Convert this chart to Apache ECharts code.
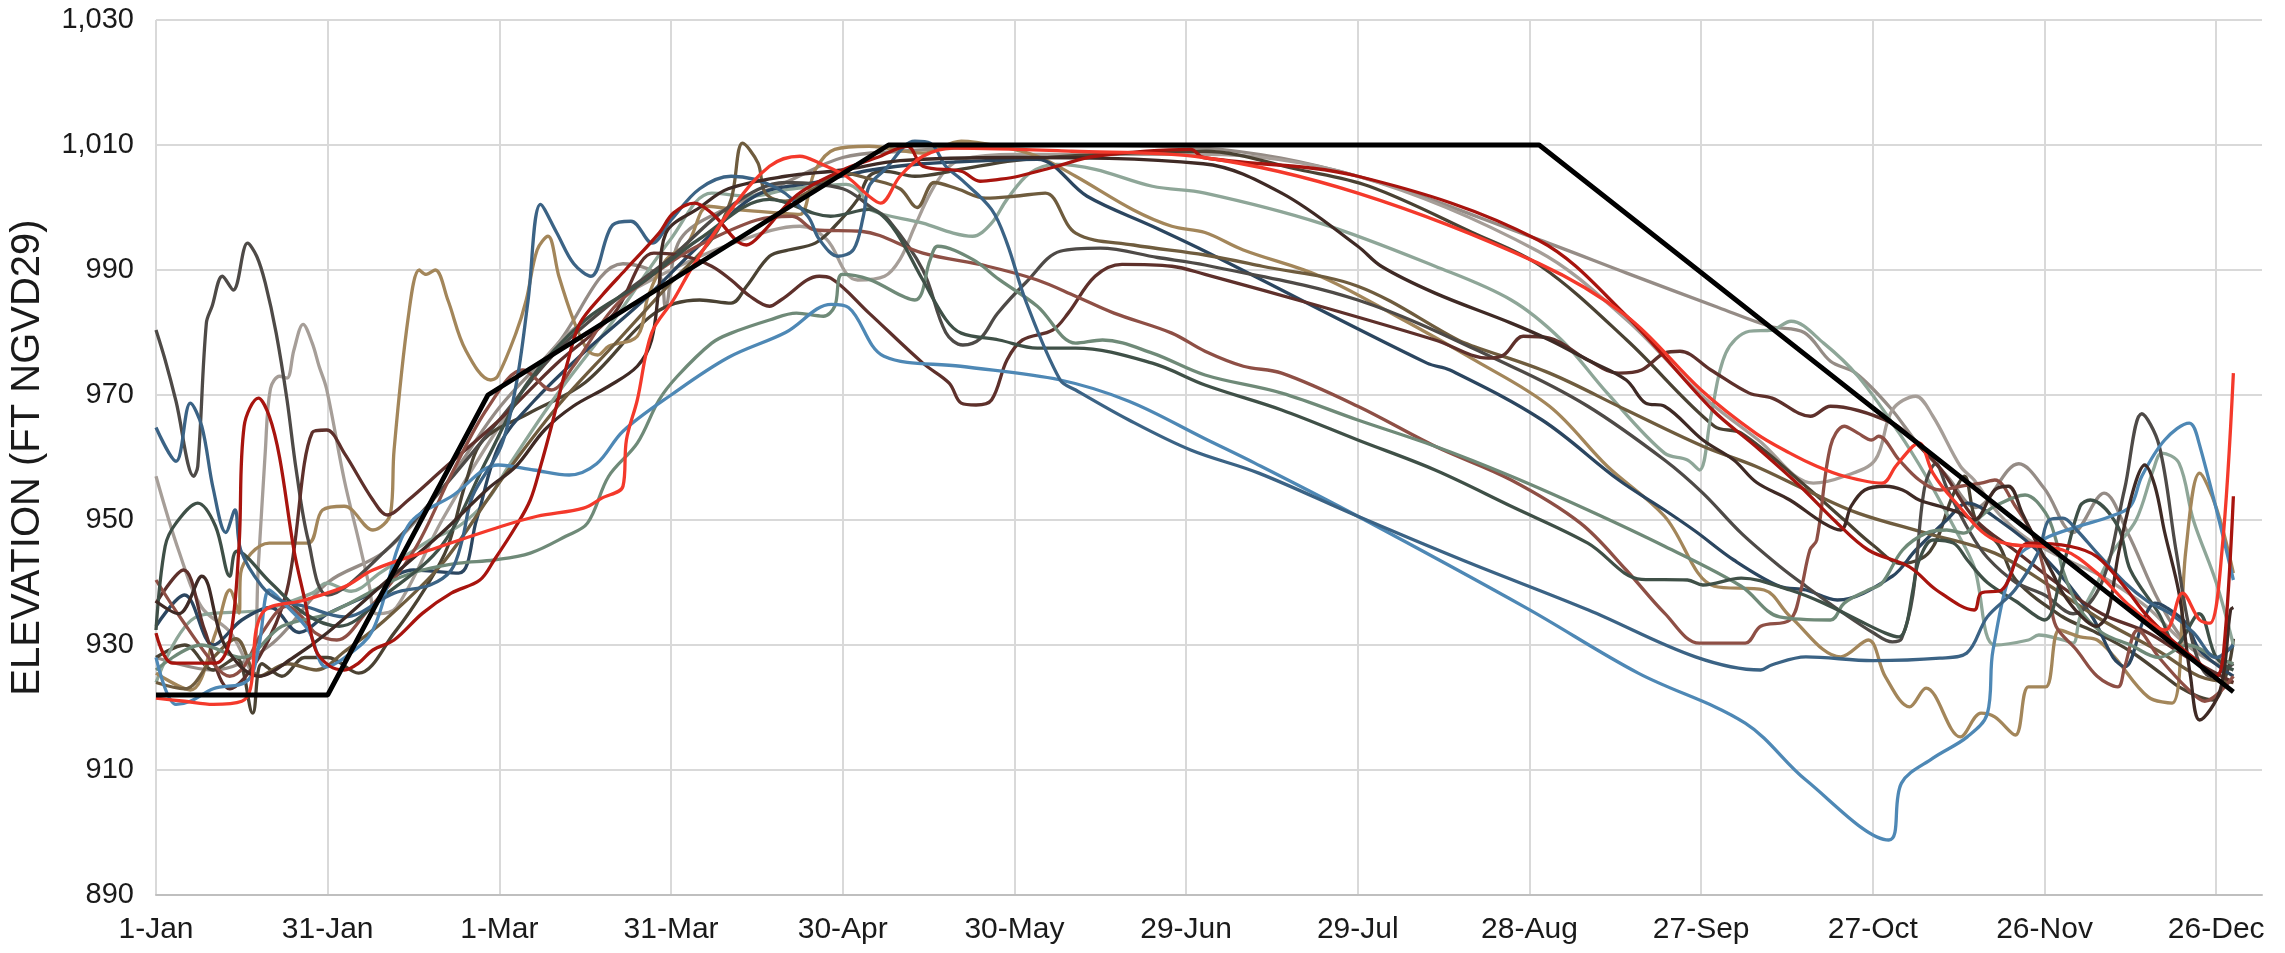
<!DOCTYPE html>
<html>

    <head>
        <meta charset="utf-8" />
        <title>Elevation</title>
        <style>
            html, body { margin: 0; padding: 0; background: #ffffff; }
            #main { width: 2285px; height: 953px; }
        </style>
    </head>

    <body>
        <div id="main"></div>
    </body>
    <script src="https://cdn.jsdelivr.net/npm/echarts@6/dist/echarts.min.js" type="text/javascript" charset="utf-8"></script>
    <script type="text/javascript">
        // x = day of year (0 = 1-Jan), y = elevation
        var tickLabels = ['1-Jan', '31-Jan', '1-Mar', '31-Mar', '30-Apr', '30-May', '29-Jun', '29-Jul', '28-Aug', '27-Sep', '27-Oct', '26-Nov', '26-Dec'];

        var ruleCurve = [[0,922],[30,922],[58,970],[128,1010],[241.7,1010],[363,922.5]];

        var taupe = [[0,928],[10,926],[20,930],[30,940],[40,945],[50,955],[60,968],[70,978],[81.6,991],[88,989],[89,984.2],[91.6,994.9],[100,1000],[110,1004],[120,1008],[130,1009],[140,1009.5],[160,1010],[183,1009.5],[210,1005],[241.5,994.9],[257,989.5],[273,984],[282,981],[288,980],[292.6,975.4],[297,973.5],[303,968],[308,962],[313,957],[318,952],[325.5,959],[330,955],[335,948],[340.4,954.3],[344.5,948],[350,937],[355,930],[360,927],[363,926]];
        var gray = [[0,957],[4,945],[8,936],[13,932],[16.6,926],[17.9,943],[19.1,961],[20,971],[21.6,973],[22.9,972.7],[24.1,977.2],[25.7,981.3],[27.3,978.3],[28.5,974.6],[29.8,971],[32.9,956.4],[35.4,946.8],[37.3,939.3],[38.5,935],[42,936],[50,950],[60,965],[70,978],[80,985],[90,990],[100,994],[112.5,997],[117.2,994.9],[120.6,989.5],[122.6,988.4],[127.3,989],[130,991.7],[132.6,997],[135.3,1002.3],[138,1006],[140.7,1007.7],[150,1008.5],[183,1008.5],[210,1005],[241.5,993],[257,982],[270,970],[280,962.8],[289.6,955.9],[295,957],[300.4,959.6],[303.4,967.6],[307.5,969.8],[310.5,966.6],[315.3,958.6],[317.7,956.4],[322,951],[327,947],[333,944],[340,941],[348,936],[355,930],[363,927]];
        var darkOlive = [[0,928],[5,930],[10,926],[14,928],[16.9,919.1],[18.5,927],[22,925],[26,928],[30,928],[35.4,925.5],[41.6,931.9],[47.2,939.3],[51,945.8],[54.1,955.9],[57.2,962.8],[65,967],[75,972],[87,983],[95,985.2],[100.5,984.7],[103.2,987.4],[107.2,992.2],[110.5,993.2],[115.2,994.3],[118.6,997],[122.6,1001.3],[124.6,1005],[127.3,1005.8],[132.6,1005],[140,1006],[150,1007.5],[165,1008.5],[183,1009],[200,1006],[212,1003.4],[230,996],[242,990.6],[257,978.8],[272.3,965],[277,963.9],[288.3,955.4],[295,950],[300,946],[305,943],[310,945],[314,954],[316,957],[318,950],[322,946],[325,940.4],[333,934.6],[339,932],[345,929],[351,925],[353.5,923.3],[357,921.7],[359.5,921.2],[362,926],[363,931]];
        var red = [[0,921.5],[5,921],[10,920.5],[15,921],[16.5,923],[18.5,935],[26,937.2],[32.9,939.3],[37.9,942],[47.9,945.2],[60.4,949],[66.6,950.6],[74.7,951.9],[77.9,953.5],[81.6,955.4],[82.2,962.8],[84.1,969.2],[86.6,979.9],[90.4,985.2],[93.8,990.6],[100.5,999.7],[107.2,1006.6],[112.5,1008.2],[115.9,1007.1],[120.6,1005],[124.6,1001.8],[126.6,1000.7],[130,1005],[134,1008.2],[139.3,1009.5],[160,1009],[183,1008],[210,1002.3],[241.5,991.1],[257,982.6],[270,970.8],[279.5,963.9],[285.5,960.7],[290.2,958.6],[295,957],[301.6,955.9],[304,958.6],[307,961.8],[308.1,962.3],[310.5,957.5],[314.1,953.2],[321.3,946.8],[333.2,945.2],[339.2,941.5],[345.1,936.1],[351.1,932.4],[354.1,938.3],[357.1,934],[358.9,933.5],[361,945],[363,973.5]];
        var darkRed = [[0,931.9],[2.9,927.1],[10.4,927.1],[12.9,930.8],[14.5,945.8],[15.4,965],[17.9,969.5],[19.8,966.6],[21.6,960],[24.1,945.2],[26,937.2],[27.9,929.2],[30.4,926.6],[32.9,926],[35.4,927.1],[37.9,929.2],[41.6,930.8],[46.6,935.1],[51.6,938.3],[56.6,940.4],[59.1,943.6],[62.9,949],[65.4,953.2],[67.2,958.6],[69.1,965],[72.2,976.2],[74.1,981.5],[78,986],[82,990],[87.9,995.9],[90.4,999.1],[94.1,1000.7],[97.1,999.1],[103.2,994],[106,996],[112,1002],[120,1006],[126,1008],[131.3,1009.8],[134,1006.6],[140.7,1005.8],[144,1004.2],[147.3,1004.5],[150.7,1005],[157.4,1006.6],[164.1,1008.2],[180.8,1009.3],[183,1008],[210,1005],[241.5,994.8],[257,982.6],[272,967.6],[279.5,961.8],[287.3,955.4],[293.2,950],[299.2,945.2],[306.4,942.5],[311.1,938.8],[317.7,935.6],[318.9,938.3],[322.5,938.8],[327.2,946.3],[334.4,945.8],[339.2,944.1],[344,939.3],[347.5,935.1],[352,931],[356,928],[360,925],[361.3,929],[363,953.8]];
        var darkBrown = [[0,937],[4,935],[8,941],[12,930],[18,925],[24,928],[30,932],[40,940],[50,948],[58,955],[62.9,958.6],[67.9,964.4],[72.9,968.2],[79.1,971.4],[84.1,974.6],[86.6,978.8],[87.9,987.4],[89.1,995.9],[95,1000],[100,1003],[110,1005],[120,1006],[130,1007.5],[150,1008],[183,1007],[196.7,1002.3],[210,993.8],[214.1,990.6],[223.5,986.3],[236.8,981.5],[243.5,978.8],[250.2,975.6],[256.9,972.4],[260.3,968.7],[263.6,968.2],[270.3,962.8],[275.7,959.6],[279.7,956],[285.5,953.2],[291.4,949.5],[294.4,948.4],[296.2,952.2],[298.6,954.8],[302.2,955.4],[305.2,954.8],[308.1,953.2],[311.7,952.2],[315.3,951.1],[317.7,950],[321.3,954.8],[323.7,955.4],[326.1,951.1],[328.4,946.8],[331.4,941.5],[333.2,938.3],[336,935],[339,933],[341,935],[343,945],[345.7,955.4],[347.5,958.8],[349.3,955.4],[351,948],[353.5,938.3],[355.5,925],[357.1,918],[360.7,922.8],[362.5,935.6],[363,936]];
        var sage = [[0,924],[7.3,934.6],[18.5,935.6],[27.3,938.3],[29.8,939.9],[34.1,938.6],[39.1,941.5],[47.9,946.8],[52.9,949],[57.9,953.2],[61.6,958.6],[70,970],[80,982],[90,995],[97.1,1002.3],[103.8,1001.8],[110.5,1002.9],[115.9,1003.4],[120.6,1003.7],[123.2,1002.3],[124.6,999.7],[134,997.5],[139.3,995.9],[142.7,995.4],[146,997.5],[148.7,1001.3],[152.7,1005.5],[157.4,1006.9],[164.1,1006.1],[174.1,1003.4],[183.3,1002.3],[203.4,997.5],[223.5,990.6],[236.8,985.2],[245.6,978.8],[253.6,970.3],[263.6,960.7],[267.6,959.6],[269.7,958],[271.7,966.6],[274.3,976.7],[278.4,980.2],[282.4,980.4],[285.7,981.8],[291.4,978.3],[297.4,973],[304.6,963.9],[309.3,957],[314.1,949],[317.7,942.5],[321.3,930],[327.2,930.8],[329,931.6],[333.2,930.8],[335,930.3],[336.2,934.5],[339.2,939.9],[342,945],[346,950],[349,958],[350.5,960.7],[353.5,959.1],[356,950],[360,940],[363,930]];
        var tan = [[0,925.5],[6,922.8],[10.4,931.9],[12.9,938.8],[14.5,935.1],[14.8,941.5],[19.8,946.3],[26.6,946.3],[29.1,951.6],[32.9,952.2],[37.9,948.4],[41,951.1],[41.6,961.2],[44.1,982.6],[46,990],[47.2,989.3],[48.8,990],[51,985.2],[54.1,977.2],[58.5,972.4],[59.7,973],[62.9,979.9],[64.7,985.2],[66.6,993.2],[68.5,995.4],[70.4,989],[72.9,982.1],[75.4,977.2],[77.2,976.4],[79.1,977.8],[84.1,979.4],[86,985.8],[89.1,991.6],[92.9,994.3],[96.5,1000.2],[101.2,999.7],[109.2,999.1],[112.5,998.9],[115.2,1006],[118.6,1009.3],[124.6,1009.8],[134,1008.7],[140.7,1010.6],[147.3,1009.8],[154,1008.2],[160.7,1005],[170.8,999.6],[177.5,997],[183.3,996],[190,993.2],[203.4,989],[216.8,982.6],[230.2,975.7],[243.5,968.2],[253.6,958.6],[263.6,950.6],[272.3,939.4],[281,938.8],[285.5,934.6],[294.4,928.1],[299.2,930.8],[302.2,924.9],[306.4,920.1],[309.3,923.1],[315.3,915.3],[318.9,919.1],[321.3,918.5],[324.9,915.6],[327.2,923.3],[330.2,923.3],[332.6,932.4],[336.2,931.3],[339.2,930.8],[342.2,928.1],[348.1,921.7],[352.3,920.7],[354.7,945.2],[357.1,957.5],[360,952],[363,941.5]];
        var navy = [[0,933],[5,938],[10,930],[15,934],[20,936],[25,932],[30,935],[37,938],[45,942],[52.9,941.5],[56,950],[60,962],[66,969],[75,977],[85,985],[95,994],[105,1002],[115,1004],[125,1006],[134,1007],[145,1007.5],[154,1007.7],[162.7,1001.8],[174.1,997],[183.3,993],[222.1,975.1],[226.1,974],[242.2,966],[255.6,956.4],[263.6,951.6],[269,948.2],[275.7,943.6],[283.7,939.4],[288.3,938.8],[293.8,937.2],[303.4,941],[307.5,945.2],[312.9,950],[316.5,952.7],[322,950],[330,944],[338,935],[342,928],[344,926.5],[347.5,934.5],[349.3,936.7],[351.1,936.1],[354.7,933.5],[357.1,929.2],[363,925]];
        var oliveBrown = [[0,924],[5,923],[10,928],[14,931],[18,925],[23,927],[28,926],[33,929],[40,934],[50,943],[60,956],[70,968],[80,978],[90,988],[97.1,994.9],[100.5,1001.3],[102.5,1010.3],[105.2,1007.1],[106.5,1002.3],[110,1001],[115,1003],[120,1005.5],[125,1004.5],[130,1003],[133,1000],[136,1004],[140,1003],[145,1001.5],[150,1001.8],[155.4,1002.3],[160.7,995.9],[170.8,994],[183.3,992.4],[193.3,990.6],[210,987.4],[227.5,978.8],[230.2,977.8],[243.5,973.5],[256.9,967.6],[270.3,961.8],[279.5,958.6],[288.3,954.8],[297.4,951.1],[309.3,947.9],[321.3,944.7],[330,940],[340,934],[350,929],[357,925],[363,924]];
        var charcoal = [[0,980.4],[1.6,975.6],[3.5,969],[6.6,957],[7.3,958.6],[8.8,981.5],[9.8,984.2],[11.6,989],[13.5,986.8],[16,994.3],[17.6,992.2],[19.1,987.9],[21,979.9],[22.9,969.2],[24.5,958],[26.6,946.8],[30,938],[40,945],[50,955],[60,966],[70,977],[80,985],[90,992],[100,1000],[110,1004],[120,1003],[125,1000],[128,998],[134,990],[138,980],[141,978],[144,979],[147,983],[152,988],[158,993],[165,993.5],[175,992],[183.3,990.8],[210,985.2],[236.8,974.6],[250.2,968.2],[263.6,959.6],[270.3,954.3],[277,947.9],[283.7,942.6],[288.3,939.4],[295,935],[300,932],[303.4,930.5],[305,931],[307,938],[309,955],[311,959],[313,955],[317,948],[320,944],[325,940],[330,938],[335,935],[340,940],[344,955],[347,967],[350,962],[353,945],[356,930],[359,925],[363,927]];
        var maroon = [[0,936.7],[4.8,942],[8.5,932.4],[12.9,923],[18,928],[22.9,938.8],[27.3,964],[29.8,964.4],[32.9,960.7],[37.9,953.2],[40.4,950.8],[44.1,953.2],[50,958],[60,966],[70,975],[80,983],[87,992.7],[92.5,992.2],[97.1,990.6],[100.5,988.4],[103.8,985.8],[107.2,984.2],[109.2,985.2],[115.9,989],[117.9,988.7],[124.6,983.1],[134,975.1],[138.6,971.9],[140.7,968.7],[143.3,968.4],[146,969.2],[148.7,975.6],[151.4,978.8],[156.7,980.4],[159.4,983.1],[164.1,989],[168.8,990.9],[177.5,990.6],[183.3,989.3],[203.4,984.2],[223.5,978.8],[232.8,975.9],[235.5,976.4],[238.9,979.4],[243.5,979.1],[250.2,975.6],[255.6,973.5],[259.6,974],[263.6,976.7],[266.3,977],[271.7,974],[278.4,970.3],[282.4,969.5],[289.1,966.6],[292.6,968.2],[303.4,965.5],[308.1,961.8],[312,958],[318,950],[325,945],[332,940],[340,935],[348,932],[355,928],[363,924]];
        var rust = [[0,940.4],[4.1,934.6],[10.4,926.6],[12.9,925],[15.4,926.6],[18.5,931.9],[22.9,936.2],[25.4,934.6],[27.9,931.9],[31.6,930.8],[36.6,935.1],[45,945],[52,958],[58,968],[64.1,974],[69.1,970.8],[72.9,974.6],[80,984],[88,990],[95,994],[105,998],[111.2,998.6],[115.2,996.4],[123.2,996.2],[134,992.7],[145.3,990.6],[154,988.4],[160.7,985.8],[167.4,983.1],[177.5,979.9],[183.3,977],[190,974.6],[196.7,973.5],[210,968.2],[223.5,961.8],[236.8,956.4],[248.9,949.5],[256.9,942],[263.6,935.1],[269.7,930.3],[277.7,930.3],[280.4,933],[285.5,934],[287.3,938.3],[289,945.2],[290.2,946.8],[292.6,961.8],[295,965],[297.4,963.9],[299.8,962.8],[301,963.4],[304.6,959.6],[308.1,956.4],[311.7,954.8],[315.3,955.4],[318.9,955.9],[321.3,956.4],[324.9,952.2],[328.4,946.8],[330.8,938.3],[332,933],[335.6,929.2],[339.2,925],[342.8,923.3],[344,926.5],[346.3,932.4],[350,928],[355,923],[358,921],[363,925]];
        var grayGreen = [[0,926],[8,930],[15,928],[22,933],[30,935],[41.6,940.4],[46.6,942],[52.9,943.1],[59.1,943.6],[65.4,944.7],[71.6,947.4],[75.4,949.5],[79.1,957],[84.1,962.3],[87.9,969.2],[91.1,973],[97.1,978.3],[100.5,979.9],[107.2,982],[111.9,983.1],[116.6,982.6],[118.6,984.2],[119.9,989.3],[124.6,988.5],[132.6,985.2],[135.3,991.7],[136.6,993.8],[142.7,991.7],[147.3,988.5],[154,984.2],[160.7,978.3],[165.4,978.8],[174.1,976.7],[183.3,973.2],[196.7,970.3],[210,966],[223.5,961.8],[236.8,957],[250.2,951.6],[263.6,945.8],[277,939.4],[283.7,934.5],[292.6,934],[295,936.7],[299.2,938.8],[301.6,939.9],[305.2,945.2],[309.3,947.9],[312.9,948.4],[315.9,947.9],[318.9,950.6],[321.3,952.2],[326.6,954],[330.2,951.1],[332,946.8],[333.2,942],[336,936],[340,932],[345,930],[350,928],[355,930],[360,928],[363,927]];
        var darkGreenGray = [[0,932.4],[1.6,945.8],[3.5,949.5],[7.3,952.7],[10.4,949],[12.9,941],[14.1,945],[20,940],[26,935],[32,933],[40,938],[50,946],[58,960],[65,972],[75,982],[85,988],[95,995],[107.2,1001.3],[117.9,998.6],[124.6,999.7],[128.6,997],[134,988.4],[138,982.1],[140.7,979.9],[147.3,978.8],[154,977.5],[160.7,977.5],[174.1,975.1],[183.3,971.6],[196.7,967.6],[210,962.8],[223.5,958],[236.8,952.2],[250.2,946.3],[259.6,940.5],[267.6,940.4],[270.3,939.6],[277,940.7],[285.5,938.8],[291.4,936.7],[297.4,934],[302.2,931.9],[304.6,931.3],[305.8,933],[307,938.8],[308.1,943.6],[310.5,946.8],[314.1,946.3],[316.5,943.6],[320,940],[325,937],[330,934],[333.2,942.5],[336.2,952.2],[338,953.2],[342.8,949],[345,942],[350,935],[353,930],[357,935],[360,928],[363,926]];
        var mediumBlue = [[0,928],[3.5,920.5],[6,921],[10,923],[16,924.3],[18,930],[19.8,938.8],[22,937],[26.6,932.4],[29.7,926.5],[33,928],[37.9,932.4],[44,949],[52,954],[59.8,958.8],[66,958],[72.2,957.2],[77,959],[81.6,964.2],[90,970],[100,976],[110,980],[118,984.5],[121,984],[127.2,976.2],[140.6,974.6],[158,972.4],[170,969],[183.3,963],[192,959.1],[210,950.6],[239.5,935.9],[259,925.5],[277.7,917.5],[288.3,908.4],[302.8,898.8],[305,907.9],[310.5,911.9],[316.5,915.3],[320,919],[321,929.2],[325,943.6],[330,947],[336,949],[341.6,950.6],[345,952.2],[347,957],[351,962.8],[355.3,965.5],[357,962.3],[363,940.4]];
        var steelBlue = [[0,964.8],[3.5,959.4],[6,968.7],[8,965],[10,955],[12.2,948],[13.8,951.6],[14.8,945.2],[18.5,939.4],[21.6,937.2],[26,936.2],[32.9,934.5],[41.6,938.3],[47.9,939.6],[51.6,942],[53.5,946.8],[55.3,953.8],[60.3,961.8],[63,972],[65,985],[67.2,1000.5],[70,996],[73,991],[76,989],[79.8,997.2],[83,997.8],[86.7,994.3],[90,998],[95,1003],[100.5,1005],[108.5,1003.1],[113.9,998.6],[115.9,994.9],[119.2,992.2],[121.9,993.3],[123.6,998.6],[124.6,1003.4],[127.3,1006],[132.6,1010.6],[135.3,1010.3],[138,1006.6],[140.7,1004.5],[146,999.7],[148.7,994.3],[152,985],[158,972.4],[160.7,970.8],[170,966],[180.8,961.2],[192.7,957.5],[210,950.6],[228.8,943.4],[250.3,935.6],[269,928.1],[280.4,926],[282.3,926.8],[288.3,928.1],[300,927.5],[311.7,927.9],[316.4,928.7],[320,934.5],[324.8,938.8],[329,945],[330.8,950],[333.2,950.3],[335.6,948.4],[339.2,944.7],[344,940],[348,937],[352,935],[356,932],[360,928],[363,930]];

        var lines = [
            { data: taupe, color: '#958c86' },
            { data: gray, color: '#a69e98' },
            { data: darkOlive, color: '#4a4233' },
            { data: sage, color: '#8ea698' },
            { data: tan, color: '#a3865a' },
            { data: navy, color: '#2b4660' },
            { data: oliveBrown, color: '#6f5c3e' },
            { data: charcoal, color: '#4e4a47' },
            { data: maroon, color: '#5e302b' },
            { data: rust, color: '#8e4f45' },
            { data: grayGreen, color: '#6f8a78' },
            { data: darkGreenGray, color: '#3f5047' },
            { data: mediumBlue, color: '#4e88b5' },
            { data: steelBlue, color: '#3b6385' },
            { data: darkBrown, color: '#3f2a25' },
            { data: darkRed, color: '#a8140e' },
            { data: red, color: '#f4392b' }
        ];

        var series = lines.map(function (l) {
            return {
                type: 'line',
                data: l.data,
                smooth: 0.35,
                showSymbol: false,
                silent: true,
                lineStyle: { color: l.color, width: 3.3 },
                z: 2
            };
        });
        series.push({
            type: 'line',
            data: ruleCurve,
            showSymbol: false,
            silent: true,
            lineStyle: { color: '#000000', width: 4.8 },
            z: 5
        });

        var myChart = echarts.init(document.getElementById('main'));
        var option = {
            backgroundColor: '#ffffff',
            animation: false,
            grid: { left: 152, right: 23, top: 20, bottom: 58 },
            xAxis: {
                type: 'value',
                min: 0,
                max: 368,
                interval: 30,
                axisLine: { show: true, lineStyle: { color: '#bfbfbf', width: 2 } },
                axisTick: { show: false },
                axisLabel: {
                    showMaxLabel: false,
                    margin: 20,
                    fontFamily: 'Liberation Sans',
                    fontSize: 30,
                    color: '#1a1a1a',
                    formatter: function (v) {
                        return v % 30 === 0 ? (tickLabels[v / 30] || '') : '';
                    }
                },
                splitLine: { show: true, showMaxLine: false, lineStyle: { color: '#d9d9d9', width: 2 } }
            },
            yAxis: {
                type: 'value',
                min: 890,
                max: 1030,
                interval: 20,
                name: 'ELEVATION (FT NGVD29)',
                nameLocation: 'middle',
                nameGap: 108,
                nameTextStyle: { fontFamily: 'Liberation Sans', fontSize: 40, color: '#1a1a1a' },
                axisLine: { show: false },
                axisTick: { show: false },
                axisLabel: {
                    margin: 22,
                    fontFamily: 'Liberation Sans',
                    fontSize: 29,
                    color: '#1a1a1a',
                    formatter: function (v) { return v.toLocaleString('en-US'); }
                },
                splitLine: { show: true, lineStyle: { color: '#d9d9d9', width: 2 } }
            },
            series: series
        };
        myChart.setOption(option);
    </script>
</html>
